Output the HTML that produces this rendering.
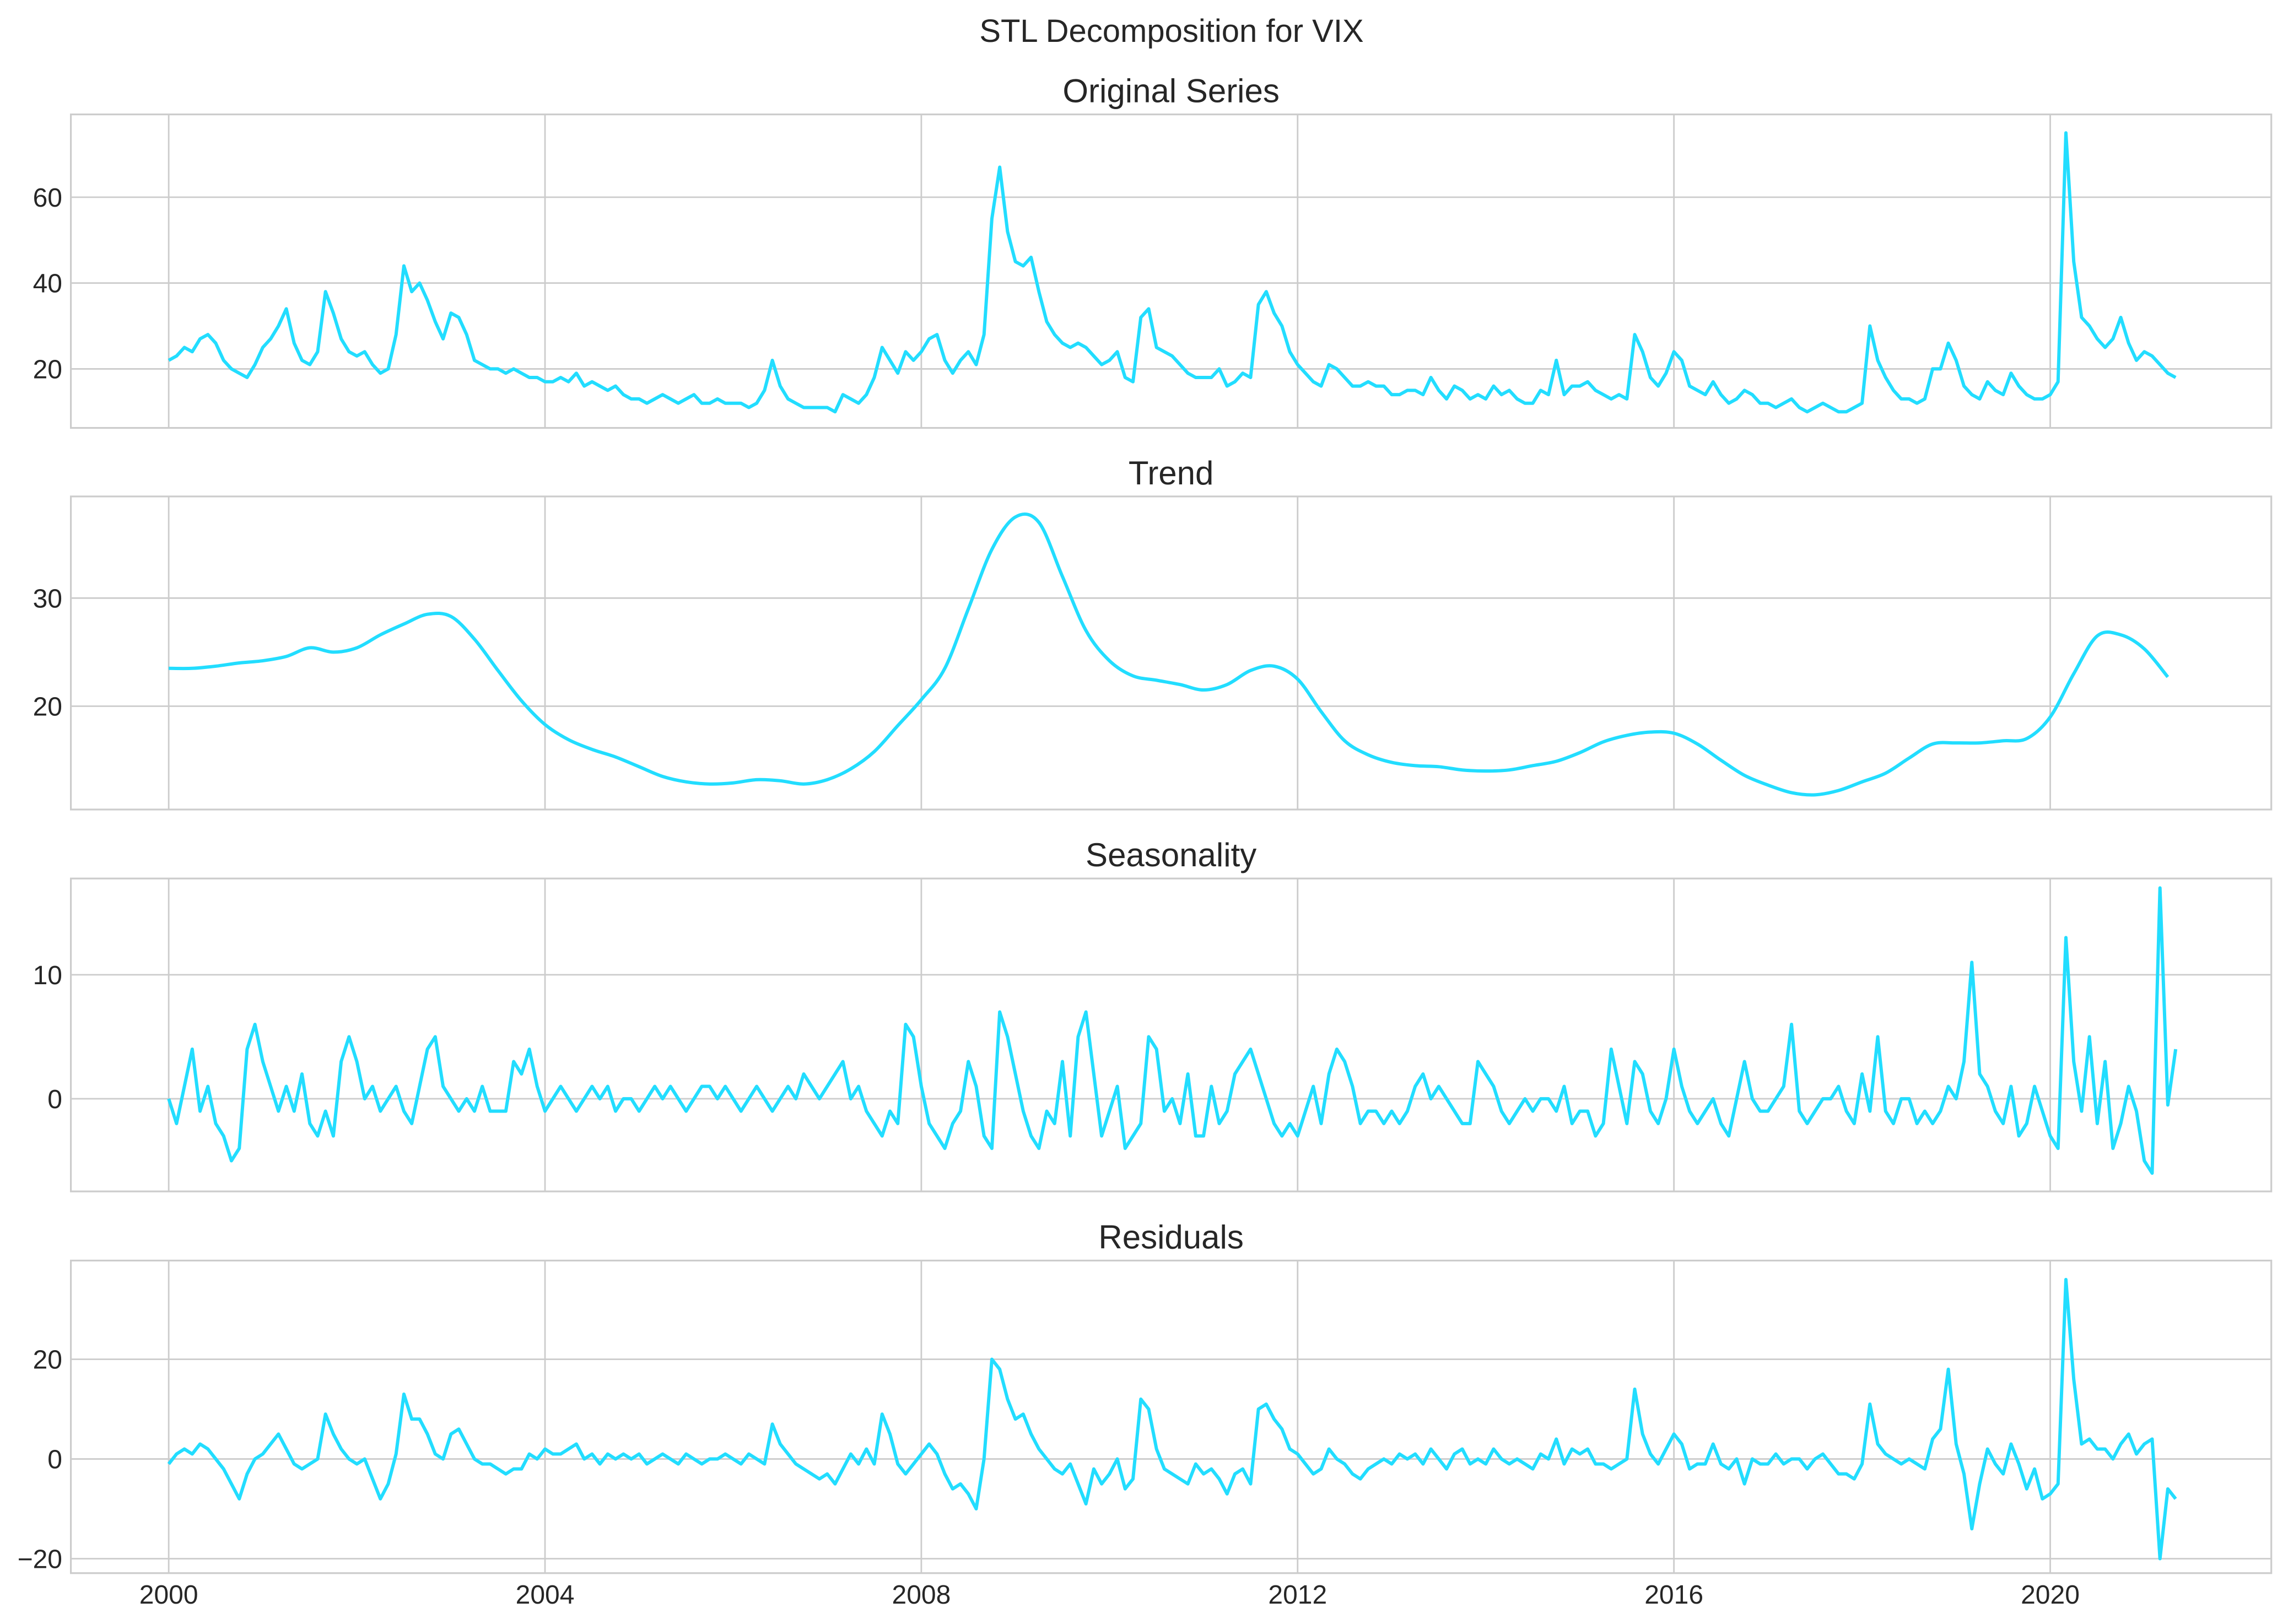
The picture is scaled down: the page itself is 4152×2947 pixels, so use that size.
<!DOCTYPE html>
<html><head><meta charset="utf-8"><title>STL Decomposition for VIX</title>
<style>
html,body{margin:0;padding:0;background:#fff;}
svg{display:block;font-family:"Liberation Sans",sans-serif;}
</style></head>
<body>
<svg id="chart" width="4152" height="2947" viewBox="0 0 4152 2947" xmlns="http://www.w3.org/2000/svg">
<rect width="4152" height="2947" fill="#ffffff"/>
<text x="2126" y="76" font-size="58" fill="#262626" text-anchor="middle">STL Decomposition for VIX</text>
</svg>
<script>
const yearTicks = [2000, 2004, 2008, 2012, 2016, 2020];
const originalValues = [
22,23,25,24,27,28,26,22,20,19,18,21,
25,27,30,34,26,22,21,24,38,33,27,24,
23,24,21,19,20,28,44,38,40,36,31,27,
33,32,28,22,21,20,20,19,20,19,18,18,
17,17,18,17,19,16,17,16,15,16,14,13,
13,12,13,14,13,12,13,14,12,12,13,12,
12,12,11,12,15,22,16,13,12,11,11,11,
11,10,14,13,12,14,18,25,22,19,24,22,
24,27,28,22,19,22,24,21,28,55,67,52,
45,44,46,38,31,28,26,25,26,25,23,21,
22,24,18,17,32,34,25,24,23,21,19,18,
18,18,20,16,17,19,18,35,38,33,30,24,
21,19,17,16,21,20,18,16,16,17,16,16,
14,14,15,15,14,18,15,13,16,15,13,14,
13,16,14,15,13,12,12,15,14,22,14,16,
16,17,15,14,13,14,13,28,24,18,16,19,
24,22,16,15,14,17,14,12,13,15,14,12,
12,11,12,13,11,10,11,12,11,10,10,11,
12,30,22,18,15,13,13,12,13,20,20,26,
22,16,14,13,17,15,14,19,16,14,13,13,
14,17,75,45,32,30,27,25,27,32,26,22,
24,23,21,19,18];
const trendValues = [
23.5,23.5,23.7,24.0,
24.2,24.6,25.4,25.0,
25.4,26.6,27.6,28.5,
28.3,26.2,23.3,20.5,
18.3,16.9,16.0,15.3,
14.4,13.5,13.0,12.8,
12.9,13.2,13.1,12.8,
13.2,14.2,15.8,18.2,
20.6,23.5,29.0,34.5,
37.5,37.0,32.0,27.0,
24.2,22.8,22.4,22.0,
21.5,22.0,23.3,23.7,
22.5,19.5,16.8,15.5,
14.8,14.5,14.4,14.1,
14.0,14.1,14.5,14.9,
15.7,16.7,17.3,17.6,
17.5,16.5,15.0,13.6,
12.7,12.0,11.8,12.2,
13.0,13.8,15.2,16.5,
16.6,16.6,16.8,17.0,
19.0,23.0,26.5,26.6,
25.3,22.7];
const seasonalValues = [
0,-2,1,4,-1,1,-2,-3,-5,-4,4,6,
3,1,-1,1,-1,2,-2,-3,-1,-3,3,5,
3,0,1,-1,0,1,-1,-2,1,4,5,1,
0,-1,0,-1,1,-1,-1,-1,3,2,4,1,
-1,0,1,0,-1,0,1,0,1,-1,0,0,
-1,0,1,0,1,0,-1,0,1,1,0,1,
0,-1,0,1,0,-1,0,1,0,2,1,0,
1,2,3,0,1,-1,-2,-3,-1,-2,6,5,
1,-2,-3,-4,-2,-1,3,1,-3,-4,7,5,
2,-1,-3,-4,-1,-2,3,-3,5,7,2,-3,
-1,1,-4,-3,-2,5,4,-1,0,-2,2,-3,
-3,1,-2,-1,2,3,4,2,0,-2,-3,-2,
-3,-1,1,-2,2,4,3,1,-2,-1,-1,-2,
-1,-2,-1,1,2,0,1,0,-1,-2,-2,3,
2,1,-1,-2,-1,0,-1,0,0,-1,1,-2,
-1,-1,-3,-2,4,1,-2,3,2,-1,-2,0,
4,1,-1,-2,-1,0,-2,-3,0,3,0,-1,
-1,0,1,6,-1,-2,-1,0,0,1,-1,-2,
2,-1,5,-1,-2,0,0,-2,-1,-2,-1,1,
0,3,11,2,1,-1,-2,1,-3,-2,1,-1,
-3,-4,13,3,-1,5,-2,3,-4,-2,1,-1,
-5,-6,17,-0.5,4];
const residualValues = [
-1,1,2,1,3,2,0,-2,-5,-8,-3,0,
1,3,5,2,-1,-2,-1,0,9,5,2,0,
-1,0,-4,-8,-5,1,13,8,8,5,1,0,
5,6,3,0,-1,-1,-2,-3,-2,-2,1,0,
2,1,1,2,3,0,1,-1,1,0,1,0,
1,-1,0,1,0,-1,1,0,-1,0,0,1,
0,-1,1,0,-1,7,3,1,-1,-2,-3,-4,
-3,-5,-2,1,-1,2,-1,9,5,-1,-3,-1,
1,3,1,-3,-6,-5,-7,-10,0,20,18,12,
8,9,5,2,0,-2,-3,-1,-5,-9,-2,-5,
-3,0,-6,-4,12,10,2,-2,-3,-4,-5,-1,
-3,-2,-4,-7,-3,-2,-5,10,11,8,6,2,
1,-1,-3,-2,2,0,-1,-3,-4,-2,-1,0,
-1,1,0,1,-1,2,0,-2,1,2,-1,0,
-1,2,0,-1,0,-1,-2,1,0,4,-1,2,
1,2,-1,-1,-2,-1,0,14,5,1,-1,2,
5,3,-2,-1,-1,3,-1,-2,0,-5,0,-1,
-1,1,-1,0,0,-2,0,1,-1,-3,-3,-4,
-1,11,3,1,0,-1,0,-1,-2,4,6,18,
3,-3,-14,-5,2,-1,-3,3,-1,-6,-2,-8,
-7,-5,36,16,3,4,2,2,0,3,5,1,
3,4,-20,-6,-8];
const panelTitles = ["Original Series", "Trend", "Seasonality", "Residuals"];
const originalTicks = [20, 40, 60];
const trendTicks = [20, 30];
const seasonalTicks = [0, 10];
const residualTicks = [-20, 0, 20];

const svg = document.getElementById('chart');
const NS = 'http://www.w3.org/2000/svg';
const X0 = 128.6, X1 = 4121.7, XMIN = 1998.96, XMAX = 2022.35;
const xScale = t => X0 + (t - XMIN) / (XMAX - XMIN) * (X1 - X0);
const panels = [
  {top:207.6, bottom:776.5, min:6.25, max:79.3, values:originalValues, step:1/12, ticks:originalTicks, smooth:false, key:'original'},
  {top:900.9, bottom:1469.0, min:10.44, max:39.4, values:trendValues, step:0.25, ticks:trendTicks, smooth:true, key:'trend'},
  {top:1594.2, bottom:2162.0, min:-7.47, max:17.76, values:seasonalValues, step:1/12, ticks:seasonalTicks, smooth:false, key:'seasonality'},
  {top:2287.5, bottom:2854.7, min:-22.9, max:39.8, values:residualValues, step:1/12, ticks:residualTicks, smooth:false, key:'residuals'}
];
function mk(tag, attrs){const e=document.createElementNS(NS,tag);for(const k in attrs)e.setAttribute(k,attrs[k]);return e;}

panels.forEach((p, pi) => {
  const yScale = v => p.bottom - (v - p.min) / (p.max - p.min) * (p.bottom - p.top);
  const g = mk('g', {});
  
  
  svg.appendChild(g);
  yearTicks.forEach(yr => {
    const x = xScale(yr);
    const l = mk('line', {x1:x, x2:x, y1:p.top, y2:p.bottom, stroke:'#cccccc', 'stroke-width':2.8});
    
    
    g.appendChild(l);
  });
  p.ticks.forEach(v => {
    const y = yScale(v);
    const l = mk('line', {x1:X0, x2:X1, y1:y, y2:y, stroke:'#cccccc', 'stroke-width':2.8});
    
    
    g.appendChild(l);
    const t = mk('text', {x:113, y:y + 17, 'font-size':48, fill:'#262626', 'text-anchor':'end'});
    
    
    t.textContent = v < 0 ? '\u2212' + Math.abs(v) : String(v);
    g.appendChild(t);
  });
  const pts = p.values.map((v, i) => [xScale(2000 + i * p.step), yScale(v)]);
  let d;
  if (p.smooth) {
    d = 'M' + pts[0][0] + ',' + pts[0][1];
    for (let i = 0; i < pts.length - 1; i++) {
      const a = pts[Math.max(0, i - 1)], b = pts[i], c = pts[i + 1], e = pts[Math.min(pts.length - 1, i + 2)];
      const c1x = b[0] + (c[0] - a[0]) / 6, c1y = b[1] + (c[1] - a[1]) / 6;
      const c2x = c[0] - (e[0] - b[0]) / 6, c2y = c[1] - (e[1] - b[1]) / 6;
      d += ' C' + c1x + ',' + c1y + ' ' + c2x + ',' + c2y + ' ' + c[0] + ',' + c[1];
    }
  } else {
    d = 'M' + pts.map(q => q[0] + ',' + q[1]).join(' L');
  }
  const path = mk('path', {d:d, fill:'none', stroke:'#22DDFF', 'stroke-width':6, 'stroke-linejoin':'round'});
  
  
  g.appendChild(path);
  const r = mk('rect', {x:X0, y:p.top, width:X1 - X0, height:p.bottom - p.top, fill:'none', stroke:'#cccccc', 'stroke-width':3.2});
  
  
  g.appendChild(r);
  const tt = mk('text', {x:(X0 + X1) / 2, y:p.top - 22, 'font-size':60, fill:'#262626', 'text-anchor':'middle'});
  
  
  tt.textContent = panelTitles[pi];
  g.appendChild(tt);
});
yearTicks.forEach(yr => {
  const t = mk('text', {x:xScale(yr), y:2910, 'font-size':48, fill:'#262626', 'text-anchor':'middle'});
  
  
  t.textContent = String(yr);
  svg.appendChild(t);
});
</script>
</body></html>
